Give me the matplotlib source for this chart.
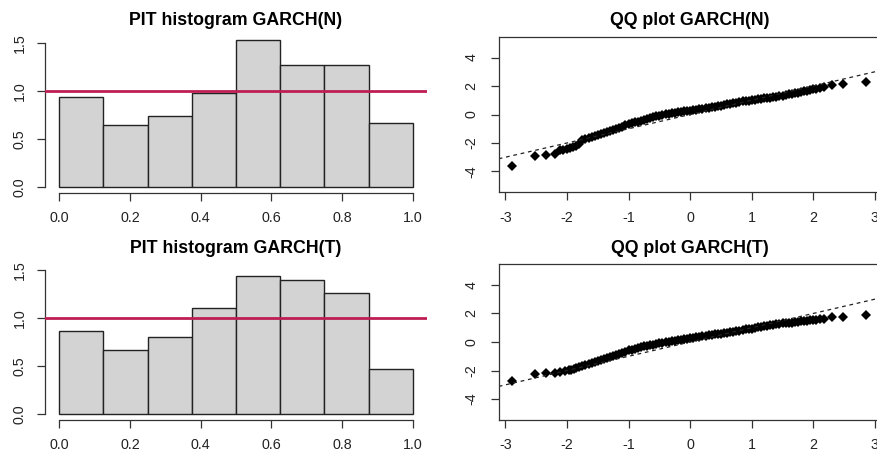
import matplotlib
matplotlib.use("Agg")
import matplotlib.pyplot as plt
import numpy as np

plt.rcParams['font.family'] = ['Liberation Sans', 'DejaVu Sans']

# ---------------- data ----------------
bin_edges = [0.0, 0.125, 0.25, 0.375, 0.5, 0.625, 0.75, 0.875, 1.0]
pit_density_N = [0.934, 0.639, 0.733, 0.972, 1.528, 1.264, 1.264, 0.663]
pit_density_T = [0.860, 0.661, 0.804, 1.100, 1.434, 1.396, 1.263, 0.470]

qq_theo_N = [-2.89, -2.52, -2.34, -2.20, -2.11, -2.06,
             -2.00, -1.95, -1.90, -1.85, -1.80, -1.75, -1.70, -1.65, -1.60, -1.55,
             -1.50, -1.45, -1.40, -1.35, -1.30, -1.25, -1.20, -1.15, -1.10, -1.05,
             -1.00, -0.95, -0.90, -0.85, -0.80, -0.75, -0.70, -0.65, -0.60, -0.55,
             -0.50, -0.45, -0.40, -0.35, -0.30, -0.25, -0.20, -0.15, -0.10, -0.05,
             0.00, 0.05, 0.10, 0.15, 0.20, 0.25, 0.30, 0.35, 0.40, 0.45,
             0.50, 0.55, 0.60, 0.65, 0.70, 0.75, 0.80, 0.85, 0.90, 0.95,
             1.00, 1.05, 1.10, 1.15, 1.20, 1.25, 1.30, 1.35, 1.40, 1.45,
             1.50, 1.55, 1.60, 1.65, 1.70, 1.75, 1.80, 1.85, 1.90, 1.95,
             2.00, 2.05, 2.10, 2.18, 2.30, 2.48, 2.85]
qq_samp_N = [-3.63, -2.90, -2.83, -2.74, -2.51, -2.47,
             -2.43, -2.35, -2.28, -2.20, -2.10, -1.80, -1.70, -1.64, -1.59, -1.52,
             -1.45, -1.38, -1.32, -1.25, -1.18, -1.11, -1.04, -0.96, -0.86, -0.76,
             -0.68, -0.62, -0.56, -0.50, -0.43, -0.36, -0.30, -0.24, -0.18, -0.13,
             -0.08, -0.03, 0.01, 0.05, 0.09, 0.13, 0.16, 0.19, 0.22, 0.24,
             0.27, 0.31, 0.35, 0.39, 0.42, 0.46, 0.49, 0.53, 0.56, 0.60,
             0.63, 0.67, 0.71, 0.75, 0.79, 0.83, 0.87, 0.92, 0.96, 0.98,
             1.01, 1.04, 1.07, 1.10, 1.13, 1.16, 1.19, 1.22, 1.25, 1.29,
             1.32, 1.38, 1.45, 1.47, 1.49, 1.53, 1.58, 1.62, 1.66, 1.71,
             1.76, 1.80, 1.86, 1.92, 2.06, 2.15, 2.29]

qq_theo_T = [-2.89, -2.52, -2.34, -2.20, -2.11, -2.03,
             -1.97, -1.93, -1.88, -1.85, -1.80, -1.75, -1.70, -1.65, -1.60, -1.55,
             -1.50, -1.45, -1.40, -1.35, -1.30, -1.25, -1.20, -1.15, -1.10, -1.05,
             -1.00, -0.95, -0.90, -0.85, -0.80, -0.75, -0.70, -0.65, -0.60, -0.55,
             -0.50, -0.45, -0.40, -0.35, -0.30, -0.25, -0.20, -0.15, -0.10, -0.05,
             0.00, 0.05, 0.10, 0.15, 0.20, 0.25, 0.30, 0.35, 0.40, 0.45,
             0.50, 0.55, 0.60, 0.65, 0.70, 0.75, 0.80, 0.85, 0.90, 0.95,
             1.00, 1.05, 1.10, 1.15, 1.20, 1.25, 1.30, 1.35, 1.40, 1.45,
             1.50, 1.55, 1.60, 1.65, 1.70, 1.75, 1.80, 1.85, 1.90, 1.95,
             2.00, 2.05, 2.10, 2.17, 2.30, 2.48, 2.85]
qq_samp_T = [-2.73, -2.27, -2.18, -2.16, -2.08, -2.01,
             -1.98, -1.94, -1.88, -1.84, -1.76, -1.68, -1.60, -1.52, -1.45, -1.37,
             -1.30, -1.24, -1.17, -1.10, -1.03, -0.96, -0.91, -0.87, -0.80, -0.68,
             -0.58, -0.53, -0.48, -0.43, -0.38, -0.31, -0.27, -0.23, -0.19, -0.14,
             -0.10, -0.05, -0.01, 0.03, 0.06, 0.10, 0.13, 0.16, 0.19, 0.22,
             0.26, 0.29, 0.32, 0.35, 0.39, 0.43, 0.47, 0.50, 0.53, 0.56,
             0.59, 0.62, 0.65, 0.68, 0.71, 0.75, 0.79, 0.83, 0.88, 0.91,
             0.94, 0.98, 1.02, 1.06, 1.10, 1.13, 1.17, 1.21, 1.25, 1.28,
             1.30, 1.32, 1.34, 1.36, 1.39, 1.41, 1.44, 1.47, 1.49, 1.51,
             1.54, 1.57, 1.60, 1.64, 1.73, 1.73, 1.90]

hist_titles = ["PIT histogram GARCH(N)", "PIT histogram GARCH(T)"]
qq_titles = ["QQ plot GARCH(N)", "QQ plot GARCH(T)"]
hist_xticks = [0.0, 0.2, 0.4, 0.6, 0.8, 1.0]
hist_yticks = [0.0, 0.5, 1.0, 1.5]
qq_xticks = [-3, -2, -1, 0, 1, 2, 3]
qq_yticks = [-4, -2, 0, 2, 4]

# ---------------- figure ----------------
W, H = 877, 455
fig = plt.figure(figsize=(W / 100, H / 100), dpi=100)


def add_ax(left, top, right, bottom):
    return fig.add_axes([left / W, 1 - bottom / H, (right - left) / W, (bottom - top) / H])


TICK_LEN = 5.8
TICK_FS = 10.3
TITLE_FS = 12.8
AX_COL = '#333333'

hist_boxes = [(45, 34, 427, 192.7), (45, 261.3, 427, 419.7)]
qq_boxes = [(498.7, 36.7, 881.6, 192.3), (498.7, 264, 881.6, 420)]
title_y = [20.5, 248.5]

for i, dens in enumerate([pit_density_N, pit_density_T]):
    ax = add_ax(*hist_boxes[i])
    ax.hist(bin_edges[:-1], bins=bin_edges, weights=dens, color='#D3D3D3',
            edgecolor='#222222', linewidth=1.0)
    ax.axhline(1.0, color='#BE1E55', linewidth=2.0, zorder=3)
    ax.set_xlim(-0.04, 1.04)
    ax.set_ylim(-0.0625, 1.5905)
    for s in ['top', 'right']:
        ax.spines[s].set_visible(False)
    ax.spines['left'].set_bounds(0, 1.5)
    ax.spines['bottom'].set_bounds(0, 1.0)
    for s in ['left', 'bottom']:
        ax.spines[s].set_color(AX_COL)
        ax.spines[s].set_linewidth(0.9)
    ax.set_xticks(hist_xticks)
    ax.set_xticklabels([f"{v:.1f}" for v in hist_xticks])
    ax.set_yticks(hist_yticks)
    ax.set_yticklabels([f"{v:.1f}" for v in hist_yticks], rotation=90, va='center')
    ax.tick_params(axis='both', length=TICK_LEN, width=0.9, color=AX_COL,
                   labelsize=TICK_FS, labelcolor='#222222')
    ax.tick_params(axis='x', pad=7.5)
    ax.tick_params(axis='y', pad=7.5)
    ax.patch.set_visible(False)
    cx = (hist_boxes[i][0] + hist_boxes[i][2]) / 2
    fig.text(cx / W, 1 - title_y[i] / H, hist_titles[i], ha='center', va='center',
             fontsize=TITLE_FS, fontweight='bold')

for i, (xs, ys) in enumerate([(qq_theo_N, qq_samp_N), (qq_theo_T, qq_samp_T)]):
    ax = add_ax(*qq_boxes[i])
    ax.set_xlim(-3.108, 3.108)
    ax.set_ylim(-5.46, 5.46)
    ax.plot(xs, ys, linestyle='none', marker='D', markersize=4.6,
            color='black', markeredgewidth=0)
    ax.axline((0, 0), slope=1, color='#222222', linestyle=(0, (3, 3)), linewidth=0.9)
    for s in ax.spines.values():
        s.set_color(AX_COL)
        s.set_linewidth(0.9)
    ax.set_xticks(qq_xticks)
    ax.set_xticklabels([str(v) for v in qq_xticks])
    ax.set_yticks(qq_yticks)
    ax.set_yticklabels([str(v) for v in qq_yticks], rotation=90, va='center')
    ax.tick_params(axis='both', length=TICK_LEN, width=0.9, color=AX_COL,
                   labelsize=TICK_FS, labelcolor='#222222')
    ax.tick_params(axis='x', pad=7.5)
    ax.tick_params(axis='y', pad=9)
    cx = (qq_boxes[i][0] + qq_boxes[i][2]) / 2
    fig.text(cx / W, 1 - title_y[i] / H, qq_titles[i], ha='center', va='center',
             fontsize=TITLE_FS, fontweight='bold')

fig.savefig("out.png", dpi=100)
